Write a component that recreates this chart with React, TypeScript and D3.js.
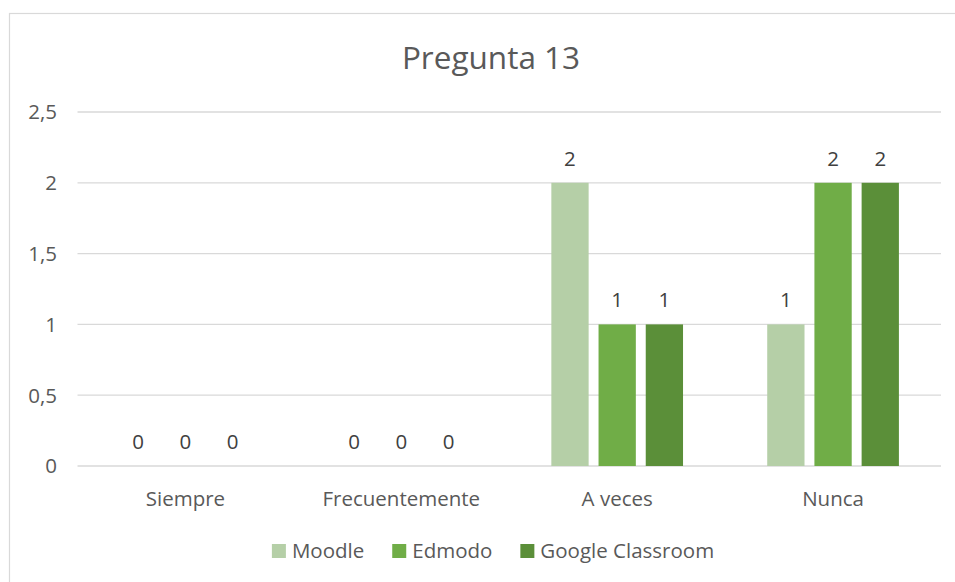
import React, { useEffect, useRef } from "react";
import * as d3 from "d3";

const categories = ["Siempre", "Frecuentemente", "A veces", "Nunca"];
const series = ["Moodle", "Edmodo", "Google Classroom"];
const moodle = [0, 0, 2, 1];
const edmodo = [0, 0, 1, 2];
const classroom = [0, 0, 1, 2];
const yTicks = [0, 0.5, 1, 1.5, 2, 2.5];
const colors = ["#b5cfa7", "#70ad47", "#5b8f39"];

const W = 955;
const H = 582;
const FONT = "'Open Sans', sans-serif";
const TEXT = "#595959";
const FS = 20.5;

const App: React.FC = () => {
	const svgRef = useRef<SVGSVGElement>(null);

	useEffect(() => {
		if (!svgRef.current) return;
		const svg = d3.select(svgRef.current);
		svg.selectAll("*").remove();

		const values = [moodle, edmodo, classroom];
		const margin = { top: 112, right: 14, bottom: 116, left: 77.5 };
		const centerX = 491;

		// chart frame
		svg
			.append("rect")
			.attr("x", 9.5)
			.attr("y", 13.5)
			.attr("width", 980)
			.attr("height", 600)
			.attr("fill", "#fff")
			.attr("stroke", "#d9d9d9")
			.attr("stroke-width", 1.2);

		svg
			.append("text")
			.attr("x", centerX)
			.attr("y", 69)
			.attr("text-anchor", "middle")
			.attr("font-family", FONT)
			.attr("font-size", 31.5)
			.attr("fill", TEXT)
			.text("Pregunta 13");

		const x0 = d3
			.scaleBand()
			.domain(categories)
			.range([margin.left, W - margin.right])
			.paddingInner(0);

		const outer = x0.bandwidth() * 0.195;
		const x1 = d3
			.scaleBand()
			.domain(series)
			.range([outer, x0.bandwidth() - outer])
			.paddingInner(0.21)
			.paddingOuter(0);

		const y = d3
			.scaleLinear()
			.domain([0, 2.5])
			.range([H - margin.bottom, margin.top]);

		const fmt = (v: number) => d3.format("")(v).replace(".", ",");

		// grid
		svg
			.append("g")
			.selectAll("line")
			.data(yTicks)
			.join("line")
			.attr("x1", margin.left)
			.attr("x2", W - margin.right)
			.attr("y1", (d) => y(d))
			.attr("y2", (d) => y(d))
			.attr("stroke", "#d9d9d9")
			.attr("stroke-width", 1.3);

		svg
			.append("g")
			.selectAll("text")
			.data(yTicks)
			.join("text")
			.attr("x", 57)
			.attr("y", (d) => y(d))
			.attr("dy", "0.36em")
			.attr("text-anchor", "end")
			.attr("font-family", FONT)
			.attr("font-size", FS)
			.attr("fill", TEXT)
			.text((d) => fmt(d));

		const rows = categories.map((c, i) => ({
			cat: c,
			items: series.map((s, j) => ({ s, j, v: values[j][i] })),
		}));

		const groups = svg
			.append("g")
			.selectAll("g")
			.data(rows)
			.join("g")
			.attr("transform", (d) => `translate(${x0(d.cat)},0)`);

		groups
			.selectAll("rect")
			.data((d) => d.items)
			.join("rect")
			.attr("x", (d) => x1(d.s) || 0)
			.attr("y", (d) => y(d.v))
			.attr("width", x1.bandwidth())
			.attr("height", (d) => y(0) - y(d.v))
			.attr("fill", (d) => colors[d.j]);

		groups
			.selectAll("text")
			.data((d) => d.items)
			.join("text")
			.attr("x", (d) => (x1(d.s) || 0) + x1.bandwidth() / 2)
			.attr("y", (d) => y(d.v) - 17)
			.attr("text-anchor", "middle")
			.attr("font-family", FONT)
			.attr("font-size", FS)
			.attr("fill", "#404040")
			.text((d) => fmt(d.v));

		// category labels
		svg
			.append("g")
			.selectAll("text")
			.data(categories)
			.join("text")
			.attr("x", (d) => (x0(d) || 0) + x0.bandwidth() / 2)
			.attr("y", 505.5)
			.attr("text-anchor", "middle")
			.attr("font-family", FONT)
			.attr("font-size", FS)
			.attr("fill", TEXT)
			.text((d) => d);

		// legend
		const legend = svg.append("g");
		const items = legend
			.selectAll("g")
			.data(series)
			.join("g");
		items
			.append("rect")
			.attr("y", 544)
			.attr("width", 14)
			.attr("height", 14)
			.attr("fill", (d, i) => colors[i]);
		const labels = items
			.append("text")
			.attr("x", 20)
			.attr("y", 557.5)
			.attr("font-family", FONT)
			.attr("font-size", FS)
			.attr("fill", TEXT)
			.text((d) => d);

		let cx = 0;
		const widths: number[] = [];
		labels.each(function () {
			widths.push((this as SVGTextElement).getComputedTextLength());
		});
		const offsets = widths.map((w) => {
			const o = cx;
			cx += 20 + w + 28;
			return o;
		});
		const total = cx - 28;
		const start = centerX + 2 - total / 2;
		items.attr("transform", (d, i) => `translate(${start + offsets[i]},0)`);
	}, []);

	return (
		<svg
			ref={svgRef}
			width={W}
			height={H}
			style={{ position: "absolute", left: 0, top: 0, background: "#fff" }}
		/>
	);
};

export default App;
